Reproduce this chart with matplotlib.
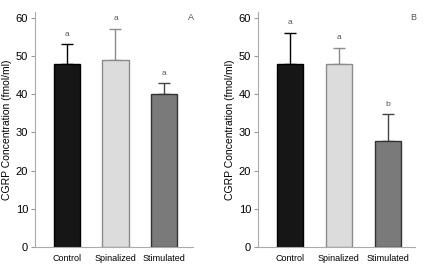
import matplotlib
matplotlib.use("Agg")
import matplotlib.pyplot as plt
import numpy as np

categories = ["Control", "Spinalized", "Stimulated"]
values_A = [48, 49, 40]
errors_A = [5, 8, 2.8]
letters_A = ["a", "a", "a"]
values_B = [48, 48, 27.7]
errors_B = [8, 4, 7]
letters_B = ["a", "a", "b"]
panel_labels = ["A", "B"]
yticks = [0, 10, 20, 30, 40, 50, 60]

bar_colors = ["#161616", "#dcdcdc", "#7a7a7a"]
edge_colors = ["#000000", "#8c8c8c", "#333333"]
err_colors = ["#000000", "#8c8c8c", "#444444"]

fig = plt.figure(figsize=(4.29, 2.70), dpi=100)
plt.rcParams['font.family'] = ['Liberation Sans', 'DejaVu Sans']

axes_pos = [[0.0816, 0.0852, 0.3684, 0.8704], [0.6014, 0.0852, 0.3660, 0.8704]]
xlims = [(-0.66, 2.6), (-0.66, 2.56)]

for i, (vals, errs, lets) in enumerate([(values_A, errors_A, letters_A), (values_B, errors_B, letters_B)]):
    ax = fig.add_axes(axes_pos[i])
    x = np.arange(len(categories))
    for j in range(len(categories)):
        ax.bar(x[j], vals[j], width=0.54, color=bar_colors[j], edgecolor=edge_colors[j], linewidth=1.0, zorder=2)
        ax.errorbar(x[j], vals[j], yerr=[[0], [errs[j]]], fmt='none', ecolor=err_colors[j],
                    elinewidth=1.0, capsize=4, capthick=1.0, zorder=1)
        ax.text(x[j], vals[j] + errs[j] + 1.8, lets[j], ha='center', va='bottom', fontsize=6, color='#555555')
    ax.set_ylim(0, 61.5)
    ax.set_xlim(*xlims[i])
    ax.set_yticks(yticks)
    ax.set_xticks(x)
    ax.set_xticklabels(categories, fontsize=6.5)
    ax.tick_params(axis='y', labelsize=8, length=3, color='#999999', width=0.8, pad=2)
    ax.tick_params(axis='x', length=0, pad=5)
    for s in ['top', 'right']:
        ax.spines[s].set_visible(False)
    for s in ['left', 'bottom']:
        ax.spines[s].set_color('#aaaaaa')
        ax.spines[s].set_linewidth(0.8)
    ax.set_ylabel("CGRP Concentration (fmol/ml)", fontsize=7.5, labelpad=3)
    ax.text(0.99, 0.975, panel_labels[i], transform=ax.transAxes, ha='center', va='center', fontsize=6.5, color='#555555')

fig.savefig("out.png", dpi=100)
